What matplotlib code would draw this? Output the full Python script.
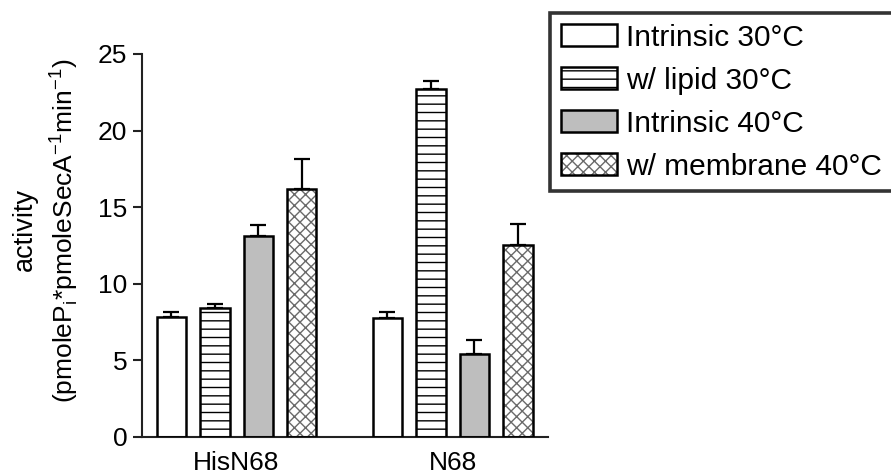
import numpy as np
import matplotlib
matplotlib.use('Agg')
import matplotlib.pyplot as plt
from matplotlib.patches import Patch
from matplotlib.legend_handler import HandlerTuple

plt.rcParams['font.family'] = ['Liberation Sans', 'DejaVu Sans']
plt.rcParams['mathtext.fontset'] = 'custom'
plt.rcParams['mathtext.rm'] = 'Liberation Sans'
plt.rcParams['hatch.linewidth'] = 1.0

# --- data ---
groups = ['HisN68', 'N68']
series = ['Intrinsic 30\u00b0C', 'w/ lipid 30\u00b0C', 'Intrinsic 40\u00b0C', 'w/ membrane 40\u00b0C']
intrinsic30 = [7.85, 7.8]
lipid30 = [8.4, 22.7]
intrinsic40 = [13.1, 5.45]
membrane40 = [16.2, 12.5]
err_intrinsic30 = [0.28, 0.35]
err_lipid30 = [0.28, 0.55]
err_intrinsic40 = [0.75, 0.87]
err_membrane40 = [1.96, 1.39]
yticks = [0, 5, 10, 15, 20, 25]

values = [intrinsic30, lipid30, intrinsic40, membrane40]
errors = [err_intrinsic30, err_lipid30, err_intrinsic40, err_membrane40]

# --- styling ---
W, H = 891, 476
fig = plt.figure(figsize=(W / 100, H / 100), dpi=100)
ax = fig.add_axes([142 / W, 1 - 437 / H, (548 - 142) / W, (437 - 54) / H])

x = np.arange(len(groups))
offsets = [-0.302, -0.1007, 0.1007, 0.302]
width = 0.1366
edge_lw = 1.8
faces = ['white', 'white', '#bebebe', 'white']
hatches = [None, '--', None, 'xxx']
hatch_cols = ['k', 'k', 'k', '#6a6a6a']

handles = []
for vals, errs, off, fc, h, hc in zip(values, errors, offsets, faces, hatches, hatch_cols):
    pos = x + off
    # fill + hatch layer
    ax.bar(pos, vals, width, color=fc, hatch=h, edgecolor=hc, linewidth=0, zorder=2)
    # outline layer with upward error bars
    ax.bar(pos, vals, width, facecolor='none', edgecolor='k', linewidth=edge_lw, zorder=3,
           yerr=[np.zeros(len(vals)), errs],
           error_kw=dict(ecolor='k', elinewidth=1.6, capsize=5.5, capthick=1.6, zorder=1))
    handles.append((Patch(facecolor=fc, hatch=h, edgecolor=hc, linewidth=0),
                    Patch(facecolor='none', edgecolor='k', linewidth=edge_lw)))

ax.set_xlim(-0.4375, 1.442)
ax.set_ylim(0, 25)
ax.set_yticks(yticks)
ax.set_xticks(x)
ax.set_xticklabels(groups)

for s in ['top', 'right']:
    ax.spines[s].set_visible(False)
for s in ['left', 'bottom']:
    ax.spines[s].set_linewidth(1.5)
    ax.spines[s].set_color('#222222')
ax.tick_params(axis='y', direction='out', length=6.5, width=1.5, color='#222222',
               labelsize=19, pad=4)
ax.tick_params(axis='x', length=0, labelsize=19, pad=10)

fig.text(25 / W, 1 - 229 / H, 'activity', rotation=90, ha='center', va='center', fontsize=19.5)
fig.text(64 / W, 1 - 231 / H,
         r'(pmoleP$_\mathregular{i}$*pmoleSecA$^\mathregular{-1}$min$^\mathregular{-1}$)',
         rotation=90, ha='center', va='center', fontsize=19)

leg = fig.legend(handles, series, loc='upper left', bbox_to_anchor=(550 / W, 1 - 13 / H),
                 borderaxespad=0, fontsize=21.5, frameon=True, fancybox=False,
                 handlelength=1.87, handleheight=0.77, handletextpad=0.33,
                 labelspacing=0.5, borderpad=0.36,
                 handler_map={tuple: HandlerTuple(ndivide=1, pad=0)})
leg.get_frame().set_edgecolor('k')
leg.get_frame().set_linewidth(2.6)

fig.savefig('out.png', dpi=100)
